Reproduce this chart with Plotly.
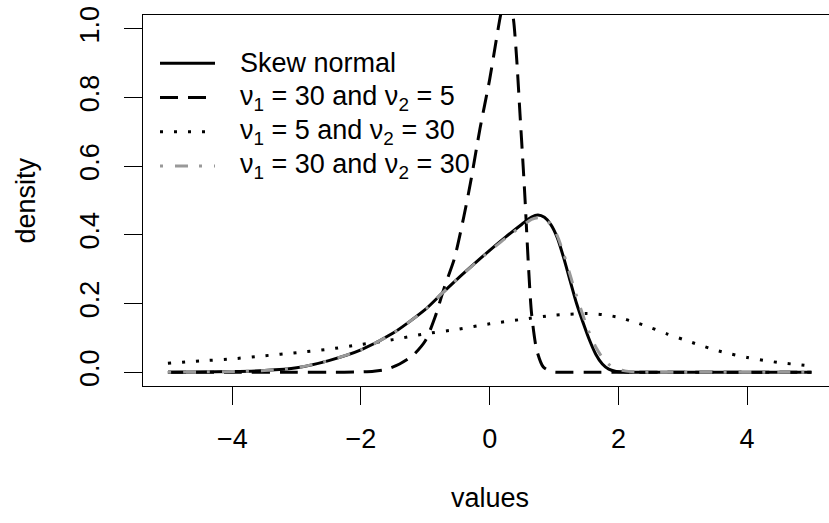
import plotly.graph_objects as go

# ---------------- data ----------------
x_sn = [-5, -4.5, -4, -3.5, -3, -2.5, -2, -1.5, -1, -0.75, -0.5, -0.25, 0, 0.25, 0.5, 0.65,
        0.75, 0.85, 0.95, 1.05, 1.15, 1.25, 1.35, 1.45, 1.55, 1.65, 1.75, 1.85, 1.95, 2.1,
        2.3, 2.6, 3, 4, 5]
y_sn = [0.0, 0.001, 0.002, 0.005, 0.013, 0.034, 0.065, 0.114, 0.183, 0.228, 0.272, 0.314,
        0.355, 0.394, 0.431, 0.452, 0.458, 0.451, 0.43, 0.392, 0.333, 0.266, 0.2, 0.145,
        0.094, 0.052, 0.024, 0.009, 0.003, 0.001, 0.0, 0.0, 0.0, 0.0, 0.0]

x_30_30 = x_sn
y_30_30 = [0.0, 0.001, 0.002, 0.005, 0.013, 0.034, 0.065, 0.114, 0.183, 0.228, 0.272, 0.313,
           0.353, 0.391, 0.426, 0.445, 0.45, 0.446, 0.43, 0.397, 0.345, 0.283, 0.222, 0.165,
           0.114, 0.073, 0.043, 0.023, 0.011, 0.004, 0.001, 0.0, 0.0, 0.0, 0.0]

x_30_5 = [-5, -4, -3, -2.5, -2, -1.8, -1.6, -1.4, -1.2, -1.0, -0.85, -0.7, -0.55, -0.4,
          -0.3, -0.15, 0, 0.1, 0.17, 0.22, 0.27, 0.32, 0.37, 0.42, 0.47, 0.52, 0.55, 0.6,
          0.65, 0.73, 0.83, 0.95, 1.1, 1.5, 2, 3, 4, 5]
y_30_5 = [0, 0, 0, 0, 0.001, 0.003, 0.009, 0.024, 0.048, 0.092, 0.16, 0.25, 0.33, 0.455,
          0.55, 0.71, 0.853, 0.965, 1.04, 1.075, 1.09, 1.075, 1.026, 0.91, 0.754, 0.599,
          0.50, 0.317, 0.172, 0.065, 0.016, 0.002, 0, 0, 0, 0, 0, 0]

x_5_30 = [-5, -4.5, -4, -3.5, -3, -2.5, -2, -1.5, -1, -0.5, 0, 0.5, 1.0, 1.25, 1.5, 1.75,
          2.0, 2.25, 2.5, 2.75, 3.0, 3.25, 3.5, 3.75, 4.0, 4.25, 4.5, 4.75, 5]
y_5_30 = [0.026, 0.033, 0.039, 0.048, 0.057, 0.067, 0.081, 0.095, 0.112, 0.125, 0.141,
          0.154, 0.166, 0.169, 0.171, 0.168, 0.16, 0.146, 0.13, 0.112, 0.096, 0.08, 0.065,
          0.053, 0.043, 0.035, 0.028, 0.023, 0.018]

x_ticks = [-4, -2, 0, 2, 4]
x_tick_labels = ["\u22124", "\u22122", "0", "2", "4"]
y_ticks = [0.0, 0.2, 0.4, 0.6, 0.8, 1.0]
y_tick_labels = ["0.0", "0.2", "0.4", "0.6", "0.8", "1.0"]

legend_labels = ["Skew normal",
                 "\u03bd<sub>1</sub> = 30 and \u03bd<sub>2</sub> = 5",
                 "\u03bd<sub>1</sub> = 5 and \u03bd<sub>2</sub> = 30",
                 "\u03bd<sub>1</sub> = 30 and \u03bd<sub>2</sub> = 30"]

# ---------------- styles ----------------
W, H = 829, 523
ML, MR, MT, MB = 143, 0, 15, 137
PW, PH = W - ML - MR, H - MT - MB
FONT = "Liberation Sans, Arial, sans-serif"
FS = 27
LW = 3
styles = [dict(color="black", width=LW, dash="solid"),
          dict(color="black", width=LW, dash="18px,10px"),
          dict(color="black", width=LW, dash="3px,11px"),
          dict(color="#999999", width=LW, dash="3px,12px,13px,11px")]

def px_x(p):
    return (p - ML) / PW

def px_y(p):
    return (H - MB - p) / PH

fig = go.Figure()
series = [(x_sn, y_sn), (x_30_5, y_30_5), (x_5_30, y_5_30), (x_30_30, y_30_30)]
for i in range(4):
    xs, ys = series[i]
    fig.add_trace(go.Scatter(x=xs, y=ys, mode="lines",
                             line=dict(**styles[i], shape="spline", smoothing=0.7),
                             name=legend_labels[i], showlegend=False, hoverinfo="skip"))

# ---------------- manual legend (R style, no box) ----------------
row_y = [63.3, 97.5, 131.7, 166.0]
shapes = []
annotations = []
for i, ry in enumerate(row_y):
    st = styles[i]
    shapes.append(dict(type="line", xref="paper", yref="paper",
                       x0=px_x(160), x1=px_x(215), y0=px_y(ry), y1=px_y(ry),
                       line=dict(color=st["color"], width=st["width"], dash=st["dash"])))
    annotations.append(dict(text=legend_labels[i], xref="paper", yref="paper",
                            x=px_x(238), y=px_y(ry), xanchor="left", yanchor="middle",
                            showarrow=False, font=dict(size=FS, color="black", family=FONT)))

# axis titles
annotations.append(dict(text="values", xref="x", yref="paper", x=0, y=px_y(498),
                        xanchor="center", yanchor="middle", showarrow=False,
                        font=dict(size=FS, color="black", family=FONT)))
annotations.append(dict(text="density", xref="paper", yref="y", x=px_x(25), y=0.5,
                        xanchor="center", yanchor="middle", textangle=-90, showarrow=False,
                        font=dict(size=FS, color="black", family=FONT)))

fig.update_layout(
    width=W, height=H, margin=dict(l=ML, r=MR, t=MT, b=MB, pad=0),
    paper_bgcolor="white", plot_bgcolor="white", showlegend=False,
    font=dict(family=FONT, color="black", size=FS),
    shapes=shapes, annotations=annotations,
    xaxis=dict(range=[-5.387, 5.272], tickvals=x_ticks, ticktext=x_tick_labels,
               ticks="outside", ticklen=18, tickwidth=1.3, tickcolor="black",
               showline=True, linecolor="black", linewidth=1.3, mirror=True,
               showgrid=False, zeroline=False, tickfont=dict(size=FS),
               ticklabelstandoff=10),
    yaxis=dict(range=[-0.04, 1.04], tickvals=y_ticks, ticktext=y_tick_labels,
               ticks="outside", ticklen=18, tickwidth=1.3, tickcolor="black",
               showline=True, linecolor="black", linewidth=1.3, mirror=False,
               showgrid=False, zeroline=False, tickfont=dict(size=FS), tickangle=-90,
               ticklabelstandoff=14),
)

fig.write_html("out.html")
